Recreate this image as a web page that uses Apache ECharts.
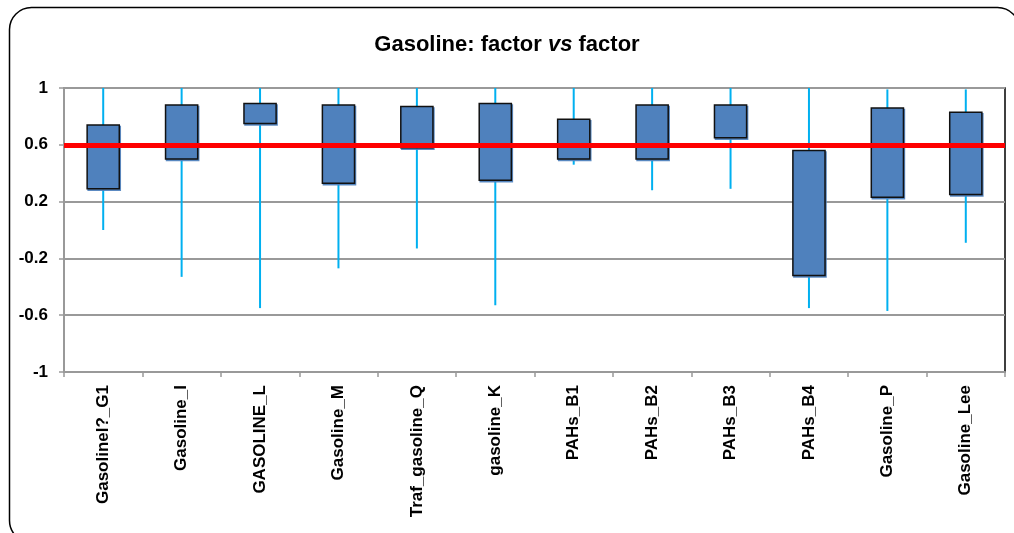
<!DOCTYPE html>
<html>
<head>
<meta charset="utf-8">
<script src="https://cdn.jsdelivr.net/npm/echarts@6/dist/echarts.min.js"></script>
<style>html,body{margin:0;padding:0;background:#fff;}#c{width:1014px;height:533px;}</style>
</head>
<body>
<div id="c"></div>
<script>
var categories = ['Gasolinel?_G1','Gasoline_I','GASOLINE_L','Gasoline_M','Traf_gasoline_Q','gasoline_K','PAHs_B1','PAHs_B2','PAHs_B3','PAHs_B4','Gasoline_P','Gasoline_Lee'];
var boxLow  = [0.29, 0.50, 0.75, 0.33, 0.58, 0.35, 0.50, 0.50, 0.65, -0.32, 0.23, 0.25];
var boxHigh = [0.74, 0.88, 0.89, 0.88, 0.87, 0.89, 0.78, 0.88, 0.88, 0.56, 0.86, 0.83];
var whiskerLow  = [0.00, -0.33, -0.55, -0.27, -0.13, -0.53, 0.46, 0.28, 0.29, -0.55, -0.57, -0.09];
var whiskerHigh = [1.00, 1.00, 1.00, 1.00, 1.00, 1.00, 1.00, 1.00, 1.00, 1.00, 0.99, 0.99];
var threshold = 0.6;

var data = categories.map(function(c, i){ return [i, boxLow[i], boxHigh[i], whiskerLow[i], whiskerHigh[i]]; });

function renderItem(params, api){
  var x = api.value(0);
  var q1 = api.coord([x, api.value(1)]);
  var q3 = api.coord([x, api.value(2)]);
  var lo = api.coord([x, api.value(3)]);
  var hi = api.coord([x, api.value(4)]);
  var w = api.size([1, 0])[0] * 0.41;
  return {
    type: 'group',
    children: [
      {type:'line', shape:{x1:lo[0], y1:lo[1], x2:hi[0], y2:hi[1]}, style:{stroke:'#00B0F0', lineWidth:2}},
      {type:'rect', shape:{x:q3[0]-w/2, y:q3[1], width:w, height:q1[1]-q3[1]},
       style:{fill:'#4F81BD', stroke:'#111111', lineWidth:1.5, shadowColor:'rgba(79,129,189,0.9)', shadowOffsetX:1, shadowOffsetY:1.5, shadowBlur:0}}
    ]
  };
}

var chart = echarts.init(document.getElementById('c'), null, {renderer:'canvas'});
var labelFont = "'Liberation Sans','Noto Sans',sans-serif";
chart.setOption({
  animation: false,
  backgroundColor: '#ffffff',
  title: {
    text: '{a|Gasoline: factor }{b|vs}{a| factor}',
    left: 'center', top: 29,
    textStyle: {
      rich: {
        a: {fontFamily: labelFont, fontWeight: 'bold', fontSize: 22, color: '#000'},
        b: {fontFamily: labelFont, fontWeight: 'bold', fontStyle: 'italic', fontSize: 22, color: '#000'}
      }
    }
  },
  graphic: [{
    type: 'rect', left: 7, top: 5, z: 100, silent: true,
    shape: {width: 1010, height: 535, r: 22},
    style: {fill: 'none', stroke: '#000', lineWidth: 1.5}
  }],
  grid: {left: 64, right: 9, top: 88, bottom: 161, show: true, borderColor: '#000', borderWidth: 1.5, backgroundColor: 'transparent'},
  xAxis: {
    type: 'category', data: categories, boundaryGap: true,
    axisLine: {onZero: false, lineStyle: {color: '#999', width: 2}},
    axisTick: {show: true, length: 5, lineStyle: {color: '#999', width: 1.5}},
    axisLabel: {rotate: 90, interval: 0, margin: 13, color: '#000', fontWeight: 'bold', fontSize: 17, fontFamily: labelFont},
    splitLine: {show: false}
  },
  yAxis: {
    type: 'value', min: -1, max: 1, interval: 0.4,
    axisLine: {show: true, lineStyle: {color: '#999', width: 2}},
    axisTick: {show: true, length: 5, lineStyle: {color: '#999', width: 1.5}},
    axisLabel: {color: '#000', fontWeight: 'bold', fontSize: 17, margin: 16, fontFamily: labelFont,
      formatter: function(v){ return String(Math.round(v*10)/10); }},
    splitLine: {show: true, lineStyle: {color: '#999', width: 2}}
  },
  series: [{
    type: 'custom', renderItem: renderItem, data: data,
    encode: {x: 0, y: [1, 2, 3, 4]},
    markLine: {
      silent: true, symbol: 'none', label: {show: false},
      lineStyle: {color: '#FF0000', width: 5, type: 'solid'},
      data: [{yAxis: threshold}]
    },
    z: 3
  }]
});
</script>
</body>
</html>
